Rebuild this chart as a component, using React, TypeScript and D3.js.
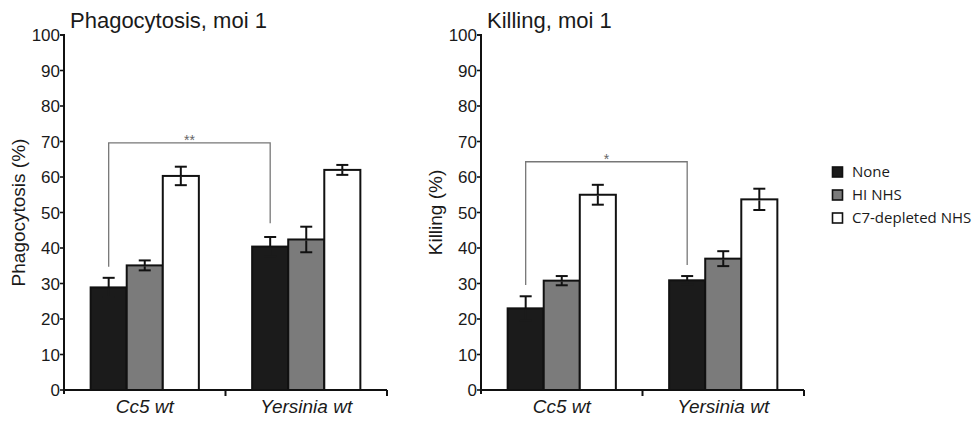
import React from "react";
import * as d3 from "d3";

const categories = ["Cc5 wt", "Yersinia wt"];
const seriesNames = ["None", "HI NHS", "C7-depleted NHS"];
const seriesColors = ["#1b1b1b", "#7b7b7b", "#ffffff"];

const phagoValues = [
  [28.9, 35.1, 60.3],
  [40.4, 42.4, 62.0],
];
const phagoErrors = [
  [2.7, 1.4, 2.6],
  [2.7, 3.6, 1.4],
];
const killValues = [
  [23.0, 30.8, 55.0],
  [30.9, 37.0, 53.7],
];
const killErrors = [
  [3.4, 1.3, 2.8],
  [1.2, 2.1, 3.0],
];
const yTicks = [0, 10, 20, 30, 40, 50, 60, 70, 80, 90, 100];

// significance brackets: [top value, left leg bottom, right leg bottom, label]
const phagoBracket = { top: 69.6, left: 34.7, right: 47.0, label: "**" };
const killBracket = { top: 64.3, left: 29.6, right: 35.2, label: "*" };

const AXIS_FONT = "'Liberation Sans', Arial, Helvetica, sans-serif";

type PanelProps = {
  x0: number;
  title: string;
  yLabel: string;
  values: number[][];
  errors: number[][];
  bracket: { top: number; left: number; right: number; label: string };
};

function Panel({ x0, title, yLabel, values, errors, bracket }: PanelProps) {
  const width = 323;
  const y = d3.scaleLinear().domain([0, 100]).range([390, 35]);
  const x = d3
    .scaleBand<string>()
    .domain(categories)
    .range([x0, x0 + width])
    .paddingInner(0.33)
    .paddingOuter(0.165);
  const xs = d3
    .scaleBand<string>()
    .domain(seriesNames)
    .range([0, x.bandwidth()]);
  const bw = xs.bandwidth();
  const capW = 12;
  const b0 = (x(categories[0]) as number) + (xs(seriesNames[0]) as number) + bw / 2;
  const b1 = (x(categories[1]) as number) + (xs(seriesNames[0]) as number) + bw / 2;
  const step = x.step();

  return (
    <g>
      <text
        x={x0 + 6}
        y={28}
        fontFamily={AXIS_FONT}
        fontSize={22}
        fill="#1a1a1a"
      >
        {title}
      </text>
      <text
        transform={`translate(${x0 - 39},${(y(0) + y(100)) / 2}) rotate(-90)`}
        textAnchor="middle"
        fontFamily={AXIS_FONT}
        fontSize={19}
        fill="#1a1a1a"
      >
        {yLabel}
      </text>
      {yTicks.map((t) => (
        <g key={t}>
          <line x1={x0 - 4} x2={x0} y1={y(t)} y2={y(t)} stroke="#111" strokeWidth={1.6} />
          <text
            x={x0 - 4}
            y={y(t) + 6}
            textAnchor="end"
            fontFamily={AXIS_FONT}
            fontSize={17}
            fill="#1a1a1a"
          >
            {t}
          </text>
        </g>
      ))}
      {/* bracket */}
      <path
        d={`M${b0},${y(bracket.left)}V${y(bracket.top)}H${b1}V${y(bracket.right)}`}
        fill="none"
        stroke="#777"
        strokeWidth={1.3}
      />
      <text
        x={(b0 + b1) / 2}
        y={y(bracket.top) + 2}
        textAnchor="middle"
        fontFamily={AXIS_FONT}
        fontSize={14}
        fill="#666"
      >
        {bracket.label}
      </text>
      {/* bars */}
      {categories.map((c, ci) =>
        seriesNames.map((s, si) => {
          const bx = (x(c) as number) + (xs(s) as number);
          const v = values[ci][si];
          return (
            <rect
              key={c + s}
              x={bx}
              y={y(v)}
              width={bw}
              height={y(0) - y(v)}
              fill={seriesColors[si]}
              stroke="#111"
              strokeWidth={2}
            />
          );
        })
      )}
      {/* error bars */}
      {categories.map((c, ci) =>
        seriesNames.map((s, si) => {
          const cx = (x(c) as number) + (xs(s) as number) + bw / 2;
          const v = values[ci][si];
          const e = errors[ci][si];
          const lowCol = si === 0 ? seriesColors[0] : "#111";
          return (
            <g key={"e" + c + s} strokeWidth={2}>
              <line x1={cx} x2={cx} y1={y(v + e)} y2={y(v)} stroke="#111" />
              <line x1={cx - capW / 2} x2={cx + capW / 2} y1={y(v + e)} y2={y(v + e)} stroke="#111" />
              <line x1={cx} x2={cx} y1={y(v) + 1} y2={y(v - e)} stroke={lowCol} />
              <line x1={cx - capW / 2} x2={cx + capW / 2} y1={y(v - e)} y2={y(v - e)} stroke={lowCol} />
            </g>
          );
        })
      )}
      {/* axes */}
      <line x1={x0} x2={x0} y1={y(100) - 1} y2={y(0) + 4} stroke="#111" strokeWidth={2} />
      <line x1={x0} x2={x0 + width} y1={y(0)} y2={y(0)} stroke="#111" strokeWidth={2} />
      <line x1={x0 - 4} x2={x0} y1={y(100)} y2={y(100)} stroke="#111" strokeWidth={1.6} />
      {[1, 2].map((i) => (
        <line
          key={i}
          x1={x0 + i * step}
          x2={x0 + i * step}
          y1={y(0)}
          y2={y(0) + 6}
          stroke="#111"
          strokeWidth={2}
        />
      ))}
      {categories.map((c) => (
        <text
          key={c}
          x={(x(c) as number) + x.bandwidth() / 2}
          y={413}
          textAnchor="middle"
          fontFamily={AXIS_FONT}
          fontStyle="italic"
          fontSize={19}
          fill="#1a1a1a"
        >
          {c}
        </text>
      ))}
    </g>
  );
}

export default function App() {
  const legendY = [172, 195, 218];
  return (
    <svg
      width={974}
      height={421}
      style={{ position: "absolute", left: 0, top: 0, background: "#fff" }}
    >
      <rect width={974} height={421} fill="#fff" />
      <Panel
        x0={64}
        title="Phagocytosis, moi 1"
        yLabel="Phagocytosis (%)"
        values={phagoValues}
        errors={phagoErrors}
        bracket={phagoBracket}
      />
      <Panel
        x0={481}
        title="Killing, moi 1"
        yLabel="Killing (%)"
        values={killValues}
        errors={killErrors}
        bracket={killBracket}
      />
      {seriesNames.map((s, i) => (
        <g key={s}>
          <rect
            x={832.5}
            y={legendY[i] - 5}
            width={10}
            height={10}
            fill={seriesColors[i]}
            stroke="#111"
            strokeWidth={1.6}
          />
          <text
            x={852}
            y={legendY[i] + 5}
            fontFamily="'Open Sans', 'Noto Sans', sans-serif"
            fontSize={15}
            fill="#1a1a1a"
          >
            {s}
          </text>
        </g>
      ))}
    </svg>
  );
}
